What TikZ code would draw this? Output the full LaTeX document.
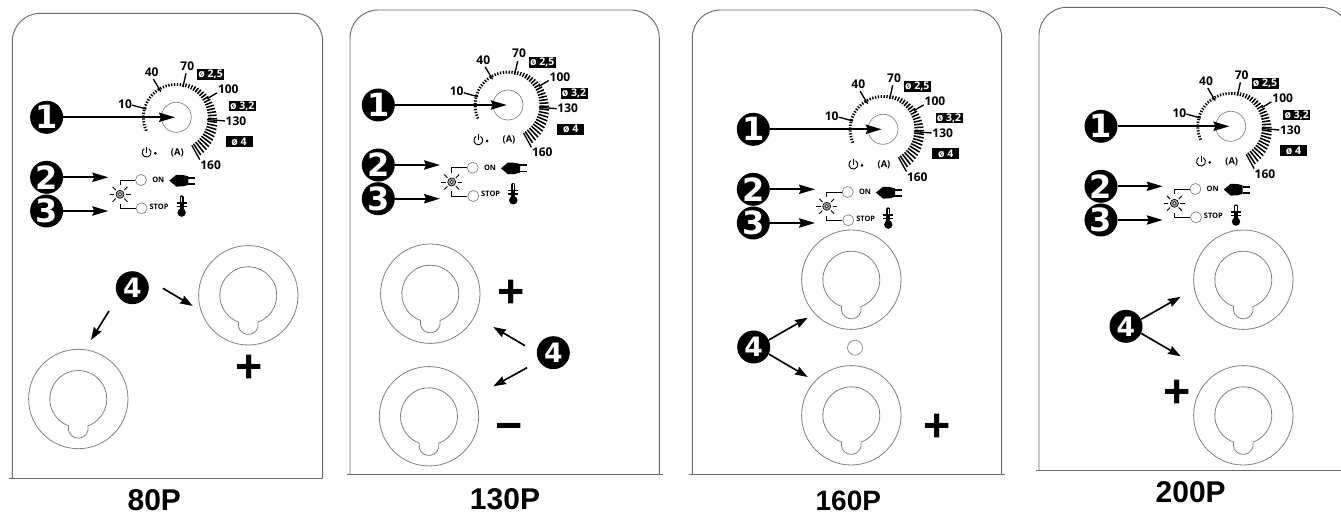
\documentclass[tikz,border=0pt]{standalone}
\usepackage{fontspec}
\usetikzlibrary{arrows.meta,positioning,shapes}
\newfontfamily\dialfont{Open Sans}
\newfontfamily\numfont{DejaVu Sans}
\newfontfamily\capfont{Liberation Sans}
\definecolor{frameline}{gray}{0.42}
\definecolor{sockline}{gray}{0.5}
\tikzset{
  frame/.style={draw=frameline,line width=.7pt},
  knob/.style={circle,draw=sockline,line width=.5pt,minimum size=30*.75pt,inner sep=0pt},
  numdot/.style={circle,fill=black,text=white,minimum size=33*.75pt,inner sep=0pt,font=\numfont\bfseries\fontsize{24}{24}\selectfont},
  smalldot/.style={numdot,font=\numfont\bfseries\fontsize{20}{20}\selectfont},
  pointer/.style={-{Stealth[length=12pt,width=7pt,inset=1.5pt]},line width=1.35pt},
  thinpointer/.style={-{Stealth[length=9.5pt,width=6.5pt,inset=1pt]},line width=1.25pt},
  scalelab/.style={inner sep=0pt,font=\dialfont\bfseries\fontsize{9}{9}\selectfont},
  sizelab/.style={fill=black,text=white,inner sep=0pt,minimum width=27*.75pt,minimum height=10.7*.75pt,font=\dialfont\bfseries\fontsize{7.9}{8}\selectfont},
  smalllab/.style={inner sep=0pt,font=\dialfont\bfseries\fontsize{5.6}{6}\selectfont},
  lamp/.style={circle,draw=sockline,line width=.5pt,minimum size=11*.75pt,inner sep=0pt},
  sunspot/.style={circle,minimum size=18*.75pt,inner sep=0pt},
  socket/.style={circle,draw=sockline,line width=.6pt,minimum size=99.4*.75pt,inner sep=0pt},
  polarity/.style={inner sep=0pt,yshift=-1.7pt,font=\capfont\bfseries\fontsize{35}{35}\selectfont},
  model/.style={inner sep=0pt,font=\capfont\bfseries\fontsize{22.5}{24}\selectfont},
}
% dial, lamps and the numbers 1 to 3, round the centre of the dial
\newcommand{\dialset}[2]{
\begin{scope}[shift={(#2)}]
\node[knob] (#1knob) at (0,0) {};
\foreach \a in {203,198,...,-61} {
  \pgfmathsetmacro{\ticklen}{\a>85 ? 2.8 : 2.8+(85-\a)*0.075}
  \pgfmathsetmacro{\tickwd}{\a>60 ? 1 : 1.15}
  \draw[line width=\tickwd pt] (\a:31.5) -- (\a:31.5+\ticklen);
}
\foreach \a/\ri/\ro in {164.6/31/46,121/30/44.5,77.6/31/45,31/36/47.5,-4.3/31/48.7,-61/32/48.3}
  \draw[line width=1pt] (\a:\ri) -- (\a:\ro);
\node[scalelab] (#1a) at (-51.3,13.3) {10};
\node[scalelab] (#1b) at (-24.7,45) {40};
\node[scalelab] (#1c) at (11,51.3) {70};
\node[scalelab] (#1d) at (52,28) {100};
\node[scalelab] (#1e) at (59.7,-3.7) {130};
\node[scalelab] (#1f) at (34.3,-47.7) {160};
\node[sizelab] (#1g) at (34.3,42.7) {ø 2,5};
\node[sizelab] (#1h) at (66,11.3) {ø 3,2};
\node[sizelab] (#1i) at (62.7,-24.3) {ø 4};
\node[scalelab,font=\dialfont\bfseries\fontsize{7}{8}\selectfont] (#1amp) at (1,-35.3) {(A)};
% power sign
\draw[line width=.7pt] (-29.7,-35.3) ++(60:4.5) arc (60:-240:4.5);
\draw[line width=.7pt] (-29.7,-29.5) -- (-29.7,-35.5);
\fill (-21,-36) circle (1.5);
% lamps
\node[sunspot] (#1sun) at (-56.3,-77) {};
\node[lamp] (#1on) at (-35.3,-62.7) {};
\node[lamp] (#1stop) at (-34.7,-91) {};
\draw[line width=.5pt,fill=gray!70] (#1sun) circle (4);
\draw[line width=.4pt,fill=white] (#1sun) circle (1.8);
\foreach \a in {0,45,135,180,225,315}
  \draw[line width=.7pt] (#1sun) ++(\a:6) -- ++(\a:4.5);
\draw[line width=.5pt] (#1sun.north) |- (#1on);
\draw[line width=.5pt] (#1sun.south) |- (#1stop);
\node[smalllab] (#1ontxt) at (-18,-63) {ON};
\node[smalllab] (#1stoptxt) at (-17.3,-89.3) {STOP};
% plug
\fill (-7,-63.3) -- (0,-57.5) -- (7,-57.8) -- (12,-59) -- (12,-67.5) -- (7,-69) -- (0,-69.3) -- cycle;
\draw[line width=1.4pt] (12,-60.3) -- (19,-60.3) (12,-66.5) -- (19,-66.5);
% thermometer
\draw[line width=3pt,line cap=round] (5.3,-80) -- (5.3,-92);
\draw[white,line width=1pt] (5.3,-79.5) -- (5.3,-85);
\fill (5.3,-95.3) circle (4.2);
\draw[line width=1pt] (.3,-85.7) -- (10.3,-85.7) (.3,-89) -- (10.3,-89);
% numbers with their arrows
\node[numdot] (#1n1) at (-129.7,0) {1};
\node[numdot] (#1n2) at (-129.7,-60) {2};
\node[numdot] (#1n3) at (-129.7,-93.7) {3};
\coordinate (#1t1) at (-1.3,0);
\coordinate (#1t2) at (-68,-60);
\coordinate (#1t3) at (-68,-93.7);
\draw[pointer] (#1n1) -- (#1t1);
\draw[pointer] (#1n2) -- (#1t2);
\draw[pointer] (#1n3) -- (#1t3);
\end{scope}
}
% socket with its keyhole
\newcommand{\socketat}[2]{
\node[socket] (#1) at (#2) {};
\draw[sockline,line width=.6pt] (#1.center) ++(-70:28.5) arc (-70:250:28.5) arc (166.2:373.8:10) -- cycle;
}
\begin{document}
\begin{tikzpicture}[x=.75pt,y=.75pt]
\clip (0,0) rectangle (1341,514);
% 80P
\draw[frame,rounded corners=21pt] (12.3,36) -- (12.3,500.7) -- (322.7,500.7) -- (322.7,36);
\draw[frame] (9,36) -- (322.7,36);
\dialset{p1}{176.3,396.7}
\socketat{p1up}{248.3,218.7}
\socketat{p1low}{78.3,115}
\node[smalldot] (p1n4) at (132.3,226.3) {4};
\coordinate (p1ta) at (192.7,208);
\coordinate (p1tb) at (91,174);
\draw[thinpointer] ([shift={(13.9,-.6)}]p1n4.east) -- (p1ta);
\draw[thinpointer] ([shift={(-23.3,-6.5)}]p1n4.south) -- (p1tb);
\node[polarity] (p1plus) at (249.3,147) {+};
\node[model] (p1name) at (154.3,14) {80P};
% 130P
\draw[frame,rounded corners=21pt] (350,39.7) -- (350,504) -- (659.3,504) -- (659.3,39.7);
\draw[frame] (347,39.7) -- (663,39.7);
\dialset{p2}{508,409}
\socketat{p2up}{430.3,220.3}
\socketat{p2low}{429,97.7}
\node[smalldot] (p2n4) at (553.3,161.3) {4};
\coordinate (p2ta) at (493.3,187);
\coordinate (p2tb) at (493.3,127.7);
\draw[thinpointer] ([shift={(-11.5,7)}]p2n4.west) -- (p2ta);
\draw[thinpointer] ([shift={(-9.5,-15)}]p2n4.west) -- (p2tb);
\node[polarity] (p2plus) at (511.3,222.3) {+};
\node[polarity,yshift=-2.8pt] (p2minus) at (509,88) {−};
\node[model] (p2name) at (505,15.3) {130P};
% 160P
\draw[frame,rounded corners=21pt] (692.3,39.7) -- (692.3,504) -- (1001.7,504) -- (1001.7,39.7);
\draw[frame] (689,39.7) -- (1005,39.7);
\dialset{p3}{883,384.7}
\socketat{p3up}{851.3,234.3}
\socketat{p3low}{851.3,98.7}
\node[lamp,minimum size=15*.75pt] (p3hole) at (855,166.3) {};
\node[smalldot] (p3n4) at (753.7,167) {4};
\coordinate (p3ta) at (807.7,196.3);
\coordinate (p3tb) at (807.7,137);
\draw[thinpointer] (p3n4.25) -- (p3ta);
\draw[thinpointer] (p3n4.-25) -- (p3tb);
\node[polarity] (p3plus) at (936.7,88.7) {+};
\node[model,font=\capfont\bfseries\fontsize{21}{24}\selectfont] (p3name) at (848.3,13.5) {160P};
% 200P
\draw[frame,rounded corners=21pt] (1039,43.3) -- (1039,506.7) -- (1349,506.7) -- (1349,43.3);
\draw[frame] (1036,43.3) -- (1349,43.3);
\dialset{p4}{1230.7,387.7}
\socketat{p4up}{1243.3,234.3}
\socketat{p4low}{1243.3,98.7}
\node[smalldot] (p4n4) at (1126,187.7) {4};
\coordinate (p4ta) at (1180.7,217.3);
\coordinate (p4tb) at (1180.7,157.7);
\draw[thinpointer] (p4n4.25) -- (p4ta);
\draw[thinpointer] (p4n4.-25) -- (p4tb);
\node[polarity] (p4plus) at (1176.7,122.7) {+};
\node[model] (p4name) at (1190.7,21.7) {200P};
\end{tikzpicture}
\end{document}
